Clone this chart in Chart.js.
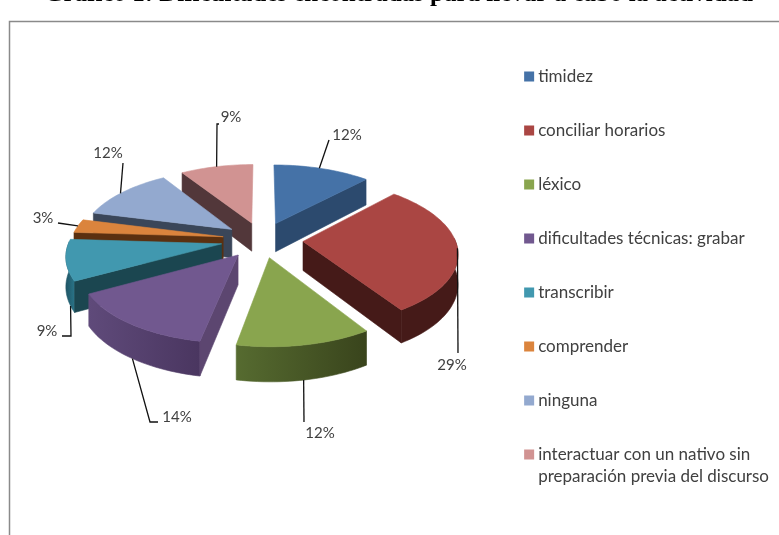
<!DOCTYPE html>
<html lang="es">
<head>
<meta charset="utf-8">
<title>Gráfico 1</title>
<script src="https://cdn.jsdelivr.net/npm/chart.js@4"></script>
<style>
html,body{margin:0;padding:0;background:#fff;overflow:hidden;width:779px;height:535px}
#c{position:absolute;left:0;top:-20px}
</style>
</head>
<body>
<canvas id="c" width="779" height="655"></canvas>
<script>
const titleText = 'Gráfico 1: Dificultades encontradas para llevar a cabo la actividad';
const categories = ['timidez','conciliar horarios','léxico','dificultades técnicas: grabar','transcribir','comprender','ninguna',['interactuar con un nativo sin','preparación previa del discurso']];
const values = [12,29,12,14,9,3,12,9];
const topColors = ['#4572A7','#AA4643','#89A54E','#71588F','#4198AF','#DB843D','#93A9CF','#D19392'];
const radialColors = ['#2C4A6E','#451A18','#39441C','#5C4670','#1B4650','#5B3010','#3A4659','#52373A'];
const wallFrom = ['#2C4A6E','#451A18','#566B30','#5F4A7A','#1F5565','#5B3010','#3A4659','#52373A'];
const wallTo = ['#2C4A6E','#451A18','#39441C','#4A3660','#2A7488','#5B3010','#3A4659','#52373A'];
const explodeBySlice = [.25,.27,.25,.26,.27,.26,.25,.25];

// Projection of the tilted pie
const view = {cx:262, cy:259.6, rx:152, ry:71, persp:0.14, depth:29};
// Callouts: where on the slice rim each one starts, its bends, and its text (canvas pixels)
const callouts = [
  {frac:.47, wall:0, bends:[[329,160]], text:[347,155]},
  {frac:.50, wall:0, bends:[[458,373]], text:[452,385]},
  {frac:.51, wall:1, bends:[[304,442]], text:[320,453]},
  {frac:.485, wall:1, bends:[[150,442],[158,442]], text:[177,437]},
  {frac:.15, wall:1, bends:[[71,356],[62,356]], text:[47,351]},
  {frac:.50, wall:0, bends:[[58,243]], text:[43,238]},
  {frac:.47, wall:0, bends:[[123,183]], text:[108,173]},
  {frac:.50, wall:0, bends:[[217,144],[219,144]], text:[231,137]}
];

function project(gx, gy, z){
  const k = 1/(1+view.persp*gy);
  return [view.cx+view.rx*gx*k, view.cy-view.ry*gy*k+(z?view.depth*k:0)];
}
function sliceGeom(el,i){
  const a0 = el.startAngle+Math.PI/2, a1 = el.endAngle+Math.PI/2, m=(a0+a1)/2;
  const ox = explodeBySlice[i]*Math.sin(m), oy = explodeBySlice[i]*Math.cos(m);
  const pt = (t,z)=>project(ox+Math.sin(t),oy+Math.cos(t),z);
  const n = Math.max(4,Math.ceil((a1-a0)/0.03));
  const ang = []; for(let j=0;j<=n;j++) ang.push(a0+(a1-a0)*j/n);
  return {a0,a1,ang,pt,apexT:project(ox,oy,false),apexB:project(ox,oy,true),mid:Math.cos(m)};
}
function poly(ctx,pts,fill){
  ctx.beginPath(); pts.forEach((p,i)=>i?ctx.lineTo(p[0],p[1]):ctx.moveTo(p[0],p[1])); ctx.closePath();
  ctx.fillStyle=fill; ctx.strokeStyle=fill; ctx.lineWidth=.6; ctx.fill(); ctx.stroke();
}
const pie3d = {
  id:'pie3d',
  beforeDatasetDraw(chart,args){
    const ctx = chart.ctx, els = chart.getDatasetMeta(args.index).data;
    const geoms = els.map((el,i)=>({i,g:sliceGeom(el,i)})).sort((p,q)=>q.g.mid-p.g.mid);
    ctx.save();
    ctx.lineJoin='round';
    geoms.forEach(({i,g})=>{
      const top = g.ang.map(t=>g.pt(t,false));
      const front = g.ang.filter(t=>Math.cos(t)<0.05);
      if(front.length>1){
        const ft = front.map(t=>g.pt(t,false)), fb = front.map(t=>g.pt(t,true));
        const xs = ft.map(p=>p[0]);
        const grad = ctx.createLinearGradient(Math.min(...xs),0,Math.max(...xs),0);
        grad.addColorStop(0,wallFrom[i]); grad.addColorStop(1,wallTo[i]);
        poly(ctx,ft.concat(fb.slice().reverse()),grad);
      }
      if(Math.sin(g.a0)<0) poly(ctx,[g.apexT,top[0],g.pt(g.a0,true),g.apexB],radialColors[i]);
      if(Math.sin(g.a1)>0) poly(ctx,[g.apexT,top[top.length-1],g.pt(g.a1,true),g.apexB],radialColors[i]);
      poly(ctx,[g.apexT].concat(top),topColors[i]);
    });
    ctx.restore();
    return false;
  },
  afterDatasetsDraw(chart){
    const ctx = chart.ctx, els = chart.getDatasetMeta(0).data, total = values.reduce((a,b)=>a+b,0);
    ctx.save();
    callouts.forEach((c,i)=>{
      const g = sliceGeom(els[i],i), s = g.pt(g.a0+(g.a1-g.a0)*c.frac,!!c.wall);
      ctx.beginPath(); ctx.moveTo(s[0],s[1]); c.bends.forEach(b=>ctx.lineTo(b[0],b[1]));
      ctx.strokeStyle='#111'; ctx.lineWidth=1.3; ctx.stroke();
      ctx.fillStyle='#404040'; ctx.font='15px Lato'; ctx.textAlign='center'; ctx.textBaseline='middle';
      ctx.fillText(Math.round(values[i]/total*100)+'%',c.text[0],c.text[1]);
    });
    // frame of the chart object
    ctx.strokeStyle='#8a8a8a'; ctx.lineWidth=1.5;
    ctx.beginPath(); ctx.moveTo(9.5,555); ctx.lineTo(9.5,41.5); ctx.lineTo(chart.width,41.5); ctx.stroke();
    ctx.restore();
  }
};
new Chart(document.getElementById('c'),{
  type:'pie',
  plugins:[pie3d],
  data:{labels:categories,datasets:[{data:values,backgroundColor:topColors,borderWidth:0}]},
  options:{
    responsive:false,animation:false,
    layout:{padding:{left:18}},
    plugins:{
      tooltip:{enabled:false},
      title:{display:true,text:titleText,color:'#000',font:{family:'Liberation Serif',size:25,weight:'bold',lineHeight:1.2},padding:{top:0,bottom:21}},
      legend:{display:true,position:'right',align:'start',fullSize:false,
        labels:{boxWidth:1,boxHeight:1,padding:37,color:'#404040',font:{family:'Lato',size:17,lineHeight:1.3},
          generateLabels(chart){
            return Chart.controllers.doughnut.overrides.plugins.legend.labels.generateLabels(chart).map(l=>({...l,lineWidth:9,strokeStyle:l.fillStyle}));
          }}}
    }
  }
});
</script>
</body>
</html>
